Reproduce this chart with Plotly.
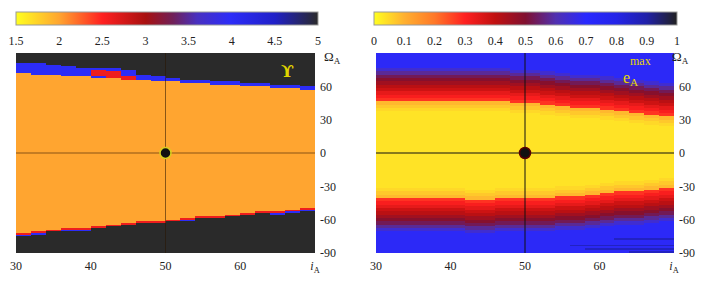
import numpy as np
import plotly.graph_objects as go

W, H = 717, 282

# ---------------- data ----------------
i_cols = [31, 33, 35, 37, 39, 41, 43, 45, 47, 49, 51, 53, 55, 57, 59, 61, 63, 65, 67, 69]
omega_rows = [-89.25 + 1.5 * k for k in range(120)]

# Left panel: Upsilon
ups_top = [71.6, 70.9, 70.1, 69.4, 68.6, 67.9, 67.1, 66.4, 65.6, 64.9,
           64.1, 63.4, 62.6, 61.9, 61.1, 60.4, 59.6, 58.9, 58.1, 57.4]      # upper edge of orange
ups_blue = [10, 10, 9, 9, 8, 9, 9, 8, 5, 4, 3, 3, 3, 3, 3, 3, 3, 3, 3, 3]   # blue band thickness
ups_bot = [-71.4, -70.3, -69.1, -68.0, -66.8, -65.7, -64.5, -63.4, -62.2, -61.1,
           -59.9, -58.8, -57.6, -56.5, -55.3, -54.2, -53.0, -51.9, -50.7, -49.6]  # lower edge of orange
ups_bot_blue = [1, 1, 0, 1, 1, 0, 0, 0, 0, 0, 0, 1, 0, 0, 0, 0, 0, 1, 1, 1]
ups_red_i = [41, 43, 45]
ups_red_lo = [69.0, 66.0, 64.0]
ups_red_hi = [75.0, 74.0, 69.0]
ups_orange, ups_blueval, ups_black, ups_red = 2.0, 4.0, 5.0, 2.6

# Right panel: e_A max
e_top = [46.3, 46.6, 46.9, 47.1, 47.2, 47.2, 47.0, 46.6, 46.0, 45.3,
         44.5, 43.5, 42.4, 41.2, 40.0, 38.8, 37.5, 36.2, 34.8, 33.4]
e_bot = [-40.0, -40.3, -40.6, -40.9, -41.1, -41.2, -41.3, -41.3, -41.2, -41.0,
         -40.6, -40.0, -39.3, -38.4, -37.4, -36.3, -35.1, -33.8, -32.4, -31.0]
band_d = [0, 3, 6, 9, 12, 15, 18, 21, 24, 27, 30]
band_e = [0.28, 0.31, 0.34, 0.38, 0.41, 0.45, 0.49, 0.53, 0.58, 0.64, 0.69]
core_d = [0, 3, 6, 9]
core_e = [0.09, 0.07, 0.05, 0.035]
streak_om = [-77.25, -83.25, -86.25, -89.25]
streak_start = [63, 57, 59, 65]
streak_e = 0.86

# ---------------- build grids ----------------
ni, no = len(i_cols), len(omega_rows)
z_u = np.zeros((no, ni))
z_e = np.zeros((no, ni))


def step_lookup(ds, vs, d):
    k = int(np.searchsorted(ds, d, side='right')) - 1
    return vs[max(0, min(k, len(vs) - 1))]


for c in range(ni):
    for r in range(no):
        om = omega_rows[r]
        if om > ups_top[c] + ups_blue[c]:
            v = ups_black
        elif om > ups_top[c]:
            v = ups_blueval
        elif om >= ups_bot[c]:
            v = ups_orange
        elif om >= ups_bot[c] - 1.5:
            v = ups_red
        elif om >= ups_bot[c] - 3 and ups_bot_blue[c]:
            v = ups_blueval
        else:
            v = ups_black
        z_u[r, c] = v

        if om > e_top[c]:
            v = step_lookup(band_d, band_e, om - e_top[c])
        elif om < e_bot[c]:
            v = step_lookup(band_d, band_e, e_bot[c] - om)
        else:
            v = step_lookup(core_d, core_e, min(e_top[c] - om, om - e_bot[c]))
        z_e[r, c] = v

for ii, lo, hi in zip(ups_red_i, ups_red_lo, ups_red_hi):
    c = i_cols.index(ii)
    for r in range(no):
        if lo <= omega_rows[r] <= hi and z_u[r, c] == ups_blueval:
            z_u[r, c] = ups_red
om_arr = np.array(omega_rows)
for oo, s in zip(streak_om, streak_start):
    r = int(np.argmin(np.abs(om_arr - oo)))
    for c in range(ni):
        if i_cols[c] >= s:
            z_e[r, c] = streak_e

# ---------------- colours ----------------
cs_u = [[0.0, '#ffff20'], [0.143, '#ffa530'], [0.286, '#ff2020'], [0.43, '#a81010'],
        [0.52, '#702058'], [0.6, '#4830c0'], [0.71, '#2c2cf8'], [0.857, '#2020c8'], [1.0, '#2a2a2a']]
cs_e = [[0.0, '#ffff20'], [0.1, '#ffb030'], [0.2, '#ff7828'], [0.3, '#ff2020'], [0.4, '#c01010'],
        [0.5, '#801030'], [0.6, '#5030b0'], [0.7, '#2828ff'], [0.8, '#2424e8'], [0.9, '#2020a8'], [1.0, '#202020']]


def px(x):
    return x / W


def py(y):
    return 1 - y / H


tickfont = dict(family='Liberation Serif, serif', size=12, color='#222')

fig = go.Figure()
fig.add_trace(go.Heatmap(
    x=i_cols, y=omega_rows, z=z_u, zmin=1.5, zmax=5, colorscale=cs_u,
    xaxis='x', yaxis='y',
    colorbar=dict(orientation='h', x=px(16), xanchor='left', y=py(12), yanchor='top',
                  len=302, lenmode='pixels', thickness=13, xpad=0, ypad=0,
                  tickvals=[1.5, 2, 2.5, 3, 3.5, 4, 4.5, 5],
                  ticktext=['1.5', '2', '2.5', '3', '3.5', '4', '4.5', '5'],
                  ticks='outside', ticklen=6, tickcolor='rgba(0,0,0,0)',
                  tickfont=tickfont, outlinewidth=1, outlinecolor='#999')))
fig.add_trace(go.Heatmap(
    x=i_cols, y=omega_rows, z=z_e, zmin=0, zmax=1, colorscale=cs_e,
    xaxis='x2', yaxis='y2',
    colorbar=dict(orientation='h', x=px(374), xanchor='left', y=py(12), yanchor='top',
                  len=303, lenmode='pixels', thickness=13, xpad=0, ypad=0,
                  tickvals=[0, 0.1, 0.2, 0.3, 0.4, 0.5, 0.6, 0.7, 0.8, 0.9, 1],
                  ticktext=['0', '0.1', '0.2', '0.3', '0.4', '0.5', '0.6', '0.7', '0.8', '0.9', '1'],
                  ticks='outside', ticklen=6, tickcolor='rgba(0,0,0,0)',
                  tickfont=tickfont, outlinewidth=1, outlinecolor='#999')))

# crosshair lines and the central point
center_i, center_om = [50], [0]
for xa, ya, lc, mc, ml in [('x', 'y', 'rgba(40,20,0,0.55)', '#111', '#d8d020'),
                           ('x2', 'y2', '#111', '#111', '#5a0000')]:
    fig.add_trace(go.Scatter(x=[center_i[0], center_i[0]], y=[-90, 90], mode='lines',
                             line=dict(color=lc, width=1), xaxis=xa, yaxis=ya,
                             showlegend=False, hoverinfo='skip'))
    fig.add_trace(go.Scatter(x=[30, 70], y=[center_om[0], center_om[0]], mode='lines',
                             line=dict(color=lc, width=1), xaxis=xa, yaxis=ya,
                             showlegend=False, hoverinfo='skip'))
    fig.add_trace(go.Scatter(x=center_i, y=center_om, mode='markers',
                             marker=dict(size=11, color=mc, line=dict(color=ml, width=1.5)),
                             xaxis=xa, yaxis=ya, showlegend=False, hoverinfo='skip'))

xtv = [30, 40, 50, 60, 70]
xtt = ['30', '40', '50', '60', '<i>i</i><sub>A</sub>']
ytv = [-90, -60, -30, 0, 30, 60]
ytt = ['-90', '-60', '-30', '0', '30', '60']
axx = dict(range=[30, 70], tickvals=xtv, ticktext=xtt, ticks='', showgrid=False,
           zeroline=False, tickfont=tickfont, showline=False, ticklabelstandoff=4,
           automargin=False)
axy = dict(range=[-90, 90], tickvals=ytv, ticktext=ytt, ticks='', side='right',
           showgrid=False, zeroline=False, tickfont=tickfont, showline=False,
           ticklabelstandoff=4, automargin=False)

fig.update_layout(
    width=W, height=H, margin=dict(l=0, r=0, t=0, b=0, autoexpand=False),
    paper_bgcolor='white', plot_bgcolor='white', showlegend=False,
    xaxis=dict(domain=[px(16), px(315)], anchor='y', **axx),
    yaxis=dict(domain=[py(253), py(53)], anchor='x', **axy),
    xaxis2=dict(domain=[px(376), px(674)], anchor='y2', **axx),
    yaxis2=dict(domain=[py(253), py(53)], anchor='x2', **axy),
    annotations=[
        dict(x=px(332), y=py(47), xref='paper', yref='paper', text='Ω<sub>A</sub>',
             showarrow=False, font=dict(family='Liberation Serif, serif', size=13, color='#222')),
        dict(x=px(691), y=py(47), xref='paper', yref='paper', text='Ω<sub>A</sub>',
             showarrow=False, font=dict(family='Liberation Serif, serif', size=13, color='#222')),
        dict(x=px(287), y=py(59), xref='paper', yref='paper', text='<b>ϒ</b>',
             showarrow=False, font=dict(family='DejaVu Serif, serif', size=17, color='#e0d400')),
        dict(x=px(640), y=py(67), xref='paper', yref='paper', text='e<sub>A</sub>',
             showarrow=False, font=dict(family='Liberation Serif, serif', size=16, color='#e8d800')),
        dict(x=px(653), y=py(52), xref='paper', yref='paper', text='max',
             showarrow=False, font=dict(family='Liberation Serif, serif', size=12, color='#e8d800')),
    ],
)

fig.write_html('out.html', config={'displayModeBar': False},
               post_script="document.body.style.margin='0px';document.body.style.overflow='hidden';")
